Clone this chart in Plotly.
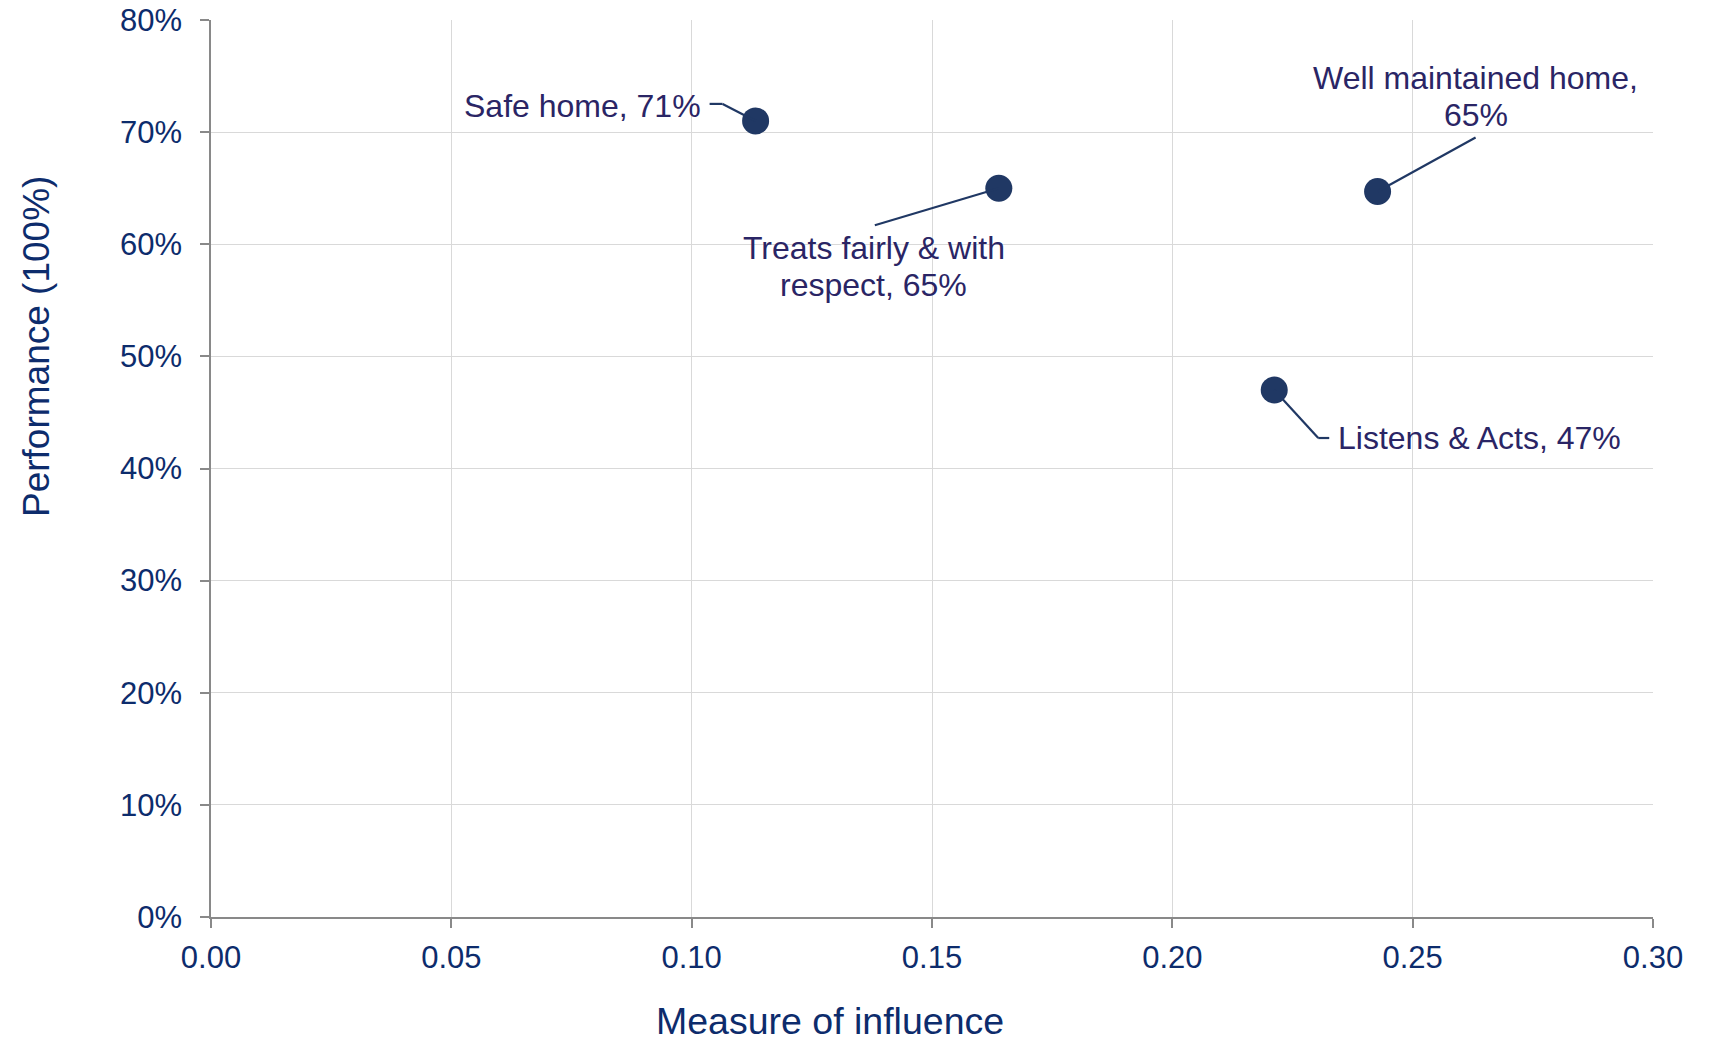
import plotly.graph_objects as go

# Driver analysis: influence of each driver vs. current performance
drivers = ["Safe home", "Treats fairly & with respect", "Well maintained home", "Listens & Acts"]
influence = [0.1133, 0.1639, 0.2427, 0.2212]
performance = [0.710, 0.650, 0.647, 0.470]

x_ticks = [0.00, 0.05, 0.10, 0.15, 0.20, 0.25, 0.30]
y_ticks = [0.0, 0.1, 0.2, 0.3, 0.4, 0.5, 0.6, 0.7, 0.8]

FONT = "Liberation Sans, Arial, sans-serif"
TICK_COLOR = "#0d2c6c"
LABEL_COLOR = "#2a2565"
MARK_COLOR = "#203864"
LINE_GAP = 37  # px between wrapped label lines

# label placement (pixel offsets from the point, y down), word wrap and leader-line elbows
label_style = [
    dict(dx=-53, dy=-15, xanchor="right", wrap=None,
         leader=[(0, 0), (-33, -17), (-46, -17)]),
    dict(dx=-125, dy=78, xanchor="center", wrap=4,
         leader=[(0, 0), (-124, 37)]),
    dict(dx=98, dy=-95, xanchor="center", wrap=3,
         leader=[(0, 0), (98, -54)]),
    dict(dx=62, dy=48, xanchor="left", wrap=None,
         leader=[(0, 0), (44, 48), (55, 48)]),
]

fig = go.Figure()

shapes = []
annotations = []
for name, xv, yv, st in zip(drivers, influence, performance, label_style):
    pts = st["leader"]
    for (ax0, ay0), (ax1, ay1) in zip(pts[:-1], pts[1:]):
        shapes.append(dict(
            type="line", xref="x", yref="y",
            xsizemode="pixel", ysizemode="pixel",
            xanchor=xv, yanchor=yv,
            x0=ax0, x1=ax1, y0=-ay0, y1=-ay1,
            line=dict(color=MARK_COLOR, width=2.2), layer="above",
        ))
    words = f"{name}, {yv:.0%}".split(" ")
    if st["wrap"]:
        lines = [" ".join(words[:st["wrap"]]), " ".join(words[st["wrap"]:])]
    else:
        lines = [" ".join(words)]
    n = len(lines)
    for i, line in enumerate(lines):
        dy = st["dy"] + (i - (n - 1) / 2) * LINE_GAP
        annotations.append(dict(
            x=xv, y=yv, xref="x", yref="y", text=line, showarrow=False,
            xshift=st["dx"], yshift=-dy, xanchor=st["xanchor"], yanchor="middle",
            font=dict(family=FONT, size=32, color=LABEL_COLOR),
        ))

fig.add_trace(go.Scatter(
    x=influence, y=performance, mode="markers",
    marker=dict(size=27, color=MARK_COLOR, line=dict(width=0)),
    hovertext=drivers, showlegend=False,
))

# axis titles placed as free text
annotations.append(dict(
    text="Measure of influence", xref="paper", yref="paper",
    x=(830 - 211) / 1442, y=-(1021 - 917) / 897, xanchor="center", yanchor="middle",
    showarrow=False, font=dict(family=FONT, size=37.5, color=TICK_COLOR),
))
annotations.append(dict(
    text="Performance (100%)", xref="paper", yref="paper",
    x=-(211 - 36) / 1442, y=(917 - 347) / 897, xanchor="center", yanchor="middle",
    textangle=-90, showarrow=False, font=dict(family=FONT, size=37, color=TICK_COLOR),
))

axis_common = dict(
    showline=True, linecolor="#898989", linewidth=1.5,
    showgrid=True, gridcolor="#d9d9d9", gridwidth=1,
    zeroline=False, ticks="outside", ticklen=9, tickcolor="#898989", tickwidth=1.5,
    tickfont=dict(family=FONT, size=31, color=TICK_COLOR),
)

fig.update_xaxes(range=[0, 0.30], tickvals=x_ticks, tickformat=".2f",
                 ticklabelstandoff=3, **axis_common)
fig.update_yaxes(range=[0, 0.80], tickvals=y_ticks, tickformat=".0%",
                 ticklabelstandoff=12, **axis_common)

fig.update_layout(
    width=1713, height=1039,
    margin=dict(l=211, r=60, t=20, b=122, autoexpand=False),
    plot_bgcolor="white", paper_bgcolor="white",
    shapes=shapes, annotations=annotations,
    font=dict(family=FONT),
)

fig.write_html("out.html")
